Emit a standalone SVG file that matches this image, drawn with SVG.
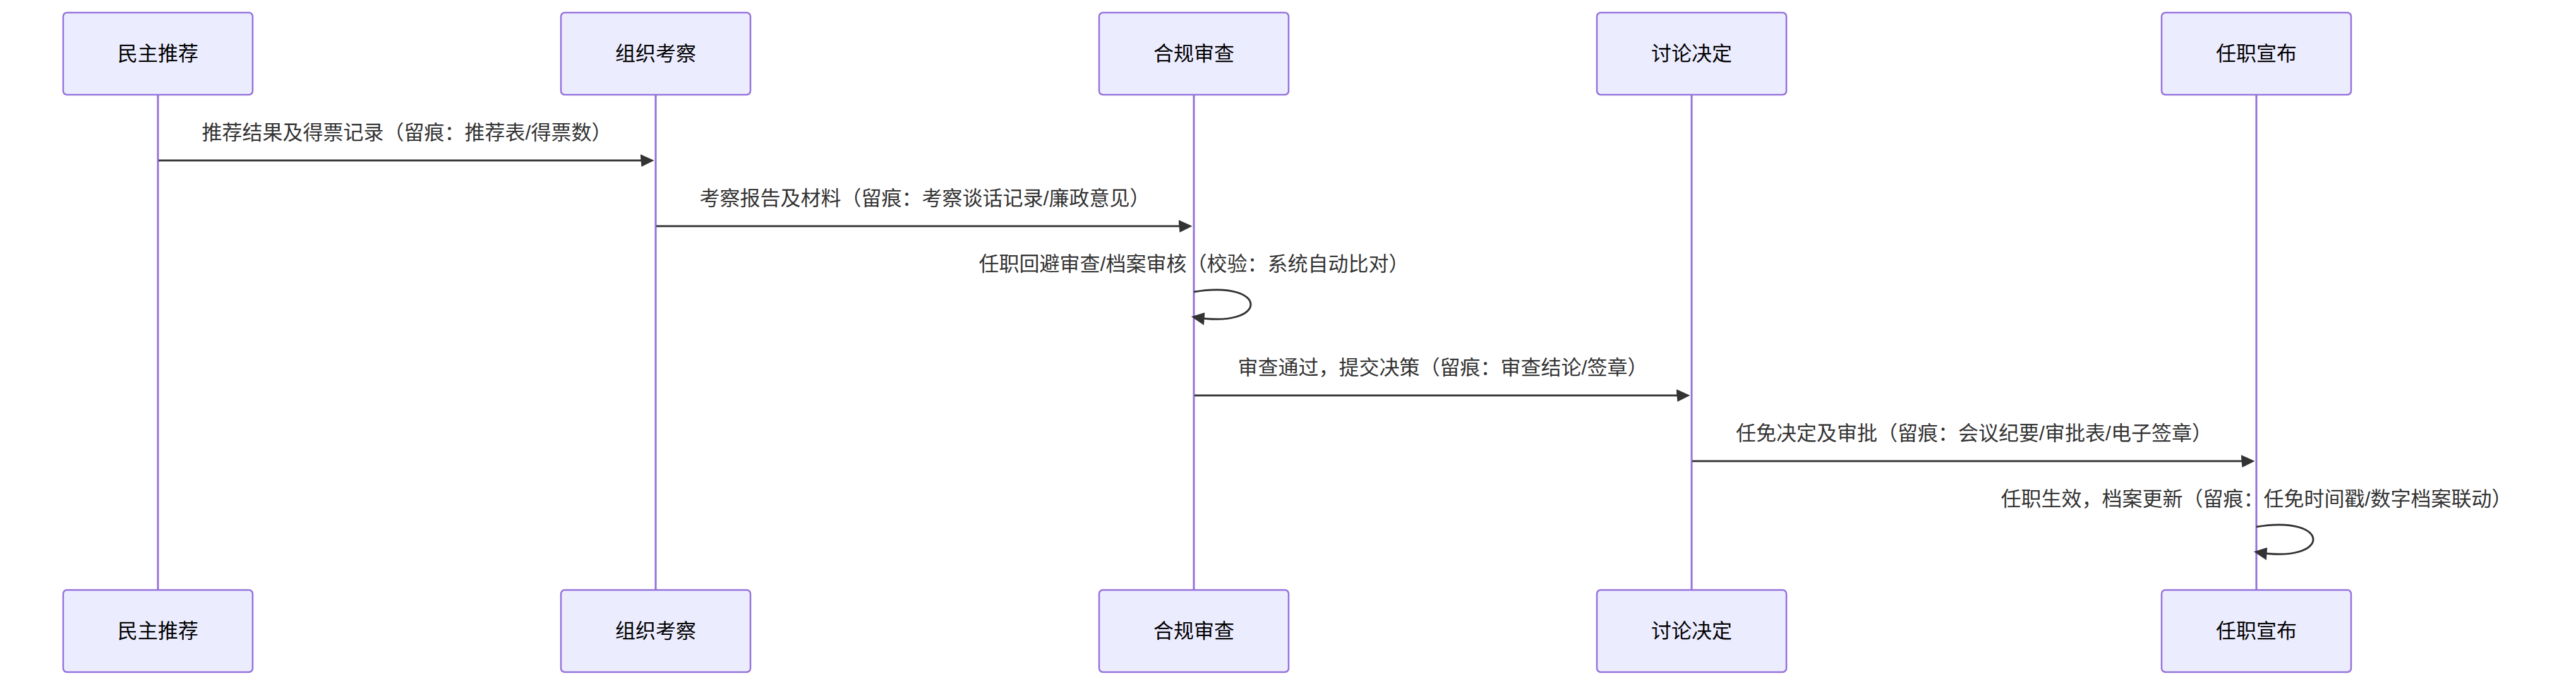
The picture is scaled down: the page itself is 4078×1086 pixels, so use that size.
<svg xmlns="http://www.w3.org/2000/svg" width="4078" height="1086" viewBox="0 0 4078 1086">
<style>
.bg{fill:#ffffff}
.actor{fill:#ECECFF;stroke:#9370DB;stroke-width:2.5}
.actor-text{font-family:"Liberation Sans","Noto Sans CJK SC",sans-serif;font-size:32px;fill:#000000;text-anchor:middle;dominant-baseline:central}
.lifeline{stroke:#9370DB;stroke-width:3;fill:none}
.msg{stroke:#333333;stroke-width:3;fill:none}
.msg-text{font-family:"Liberation Sans","Noto Sans CJK SC",sans-serif;font-size:32px;fill:#333333;text-anchor:middle;dominant-baseline:central}
</style>
<defs>
<marker id="arrowhead" markerUnits="userSpaceOnUse" viewBox="-1 0 11 10" markerWidth="22" markerHeight="20" refX="7.9" refY="5" orient="auto">
<path d="M -1 0 L 10 5 L 0 10 z" fill="#333333"/>
</marker>
</defs>
<rect class="bg" x="0" y="0" width="4078" height="1086"/>
<g id="lifelines">
<line class="lifeline" x1="250" y1="150" x2="250" y2="934"/>
<line class="lifeline" x1="1038" y1="150" x2="1038" y2="934"/>
<line class="lifeline" x1="1890" y1="150" x2="1890" y2="934"/>
<line class="lifeline" x1="2678" y1="150" x2="2678" y2="934"/>
<line class="lifeline" x1="3572" y1="150" x2="3572" y2="934"/>
</g>
<g id="actor-minzhu">
<rect class="actor" x="100" y="20" width="300" height="130" rx="6" ry="6"/>
<text class="actor-text" x="250" y="85">民主推荐</text>
<rect class="actor" x="100" y="934" width="300" height="130" rx="6" ry="6"/>
<text class="actor-text" x="250" y="999">民主推荐</text>
</g>
<g id="actor-zuzhi">
<rect class="actor" x="888" y="20" width="300" height="130" rx="6" ry="6"/>
<text class="actor-text" x="1038" y="85">组织考察</text>
<rect class="actor" x="888" y="934" width="300" height="130" rx="6" ry="6"/>
<text class="actor-text" x="1038" y="999">组织考察</text>
</g>
<g id="actor-hegui">
<rect class="actor" x="1740" y="20" width="300" height="130" rx="6" ry="6"/>
<text class="actor-text" x="1890" y="85">合规审查</text>
<rect class="actor" x="1740" y="934" width="300" height="130" rx="6" ry="6"/>
<text class="actor-text" x="1890" y="999">合规审查</text>
</g>
<g id="actor-taolun">
<rect class="actor" x="2528" y="20" width="300" height="130" rx="6" ry="6"/>
<text class="actor-text" x="2678" y="85">讨论决定</text>
<rect class="actor" x="2528" y="934" width="300" height="130" rx="6" ry="6"/>
<text class="actor-text" x="2678" y="999">讨论决定</text>
</g>
<g id="actor-renzhi">
<rect class="actor" x="3422" y="20" width="300" height="130" rx="6" ry="6"/>
<text class="actor-text" x="3572" y="85">任职宣布</text>
<rect class="actor" x="3422" y="934" width="300" height="130" rx="6" ry="6"/>
<text class="actor-text" x="3572" y="999">任职宣布</text>
</g>
<g id="connectors">
<text class="msg-text" x="644" y="210">推荐结果及得票记录（留痕：推荐表/得票数）</text>
<line class="msg" x1="251" y1="254" x2="1031.3" y2="254" marker-end="url(#arrowhead)"/>
<text class="msg-text" x="1464" y="313.5">考察报告及材料（留痕：考察谈话记录/廉政意见）</text>
<line class="msg" x1="1039" y1="358" x2="1883.3" y2="358" marker-end="url(#arrowhead)"/>
<text class="msg-text" x="1890" y="417.5">任职回避审查/档案审核（校验：系统自动比对）</text>
<path class="msg" d="M 1890,462 C 2010,442 2010,522 1890,502" marker-end="url(#arrowhead)"/>
<text class="msg-text" x="2284" y="581.5">审查通过，提交决策（留痕：审查结论/签章）</text>
<line class="msg" x1="1891" y1="626" x2="2671.3" y2="626" marker-end="url(#arrowhead)"/>
<text class="msg-text" x="3125" y="685.5">任免决定及审批（留痕：会议纪要/审批表/电子签章）</text>
<line class="msg" x1="2679" y1="730" x2="3565.3" y2="730" marker-end="url(#arrowhead)"/>
<text class="msg-text" x="3572" y="789.5">任职生效，档案更新（留痕：任免时间戳/数字档案联动）</text>
<path class="msg" d="M 3572,834 C 3692,814 3692,894 3572,874" marker-end="url(#arrowhead)"/>
</g>
</svg>
